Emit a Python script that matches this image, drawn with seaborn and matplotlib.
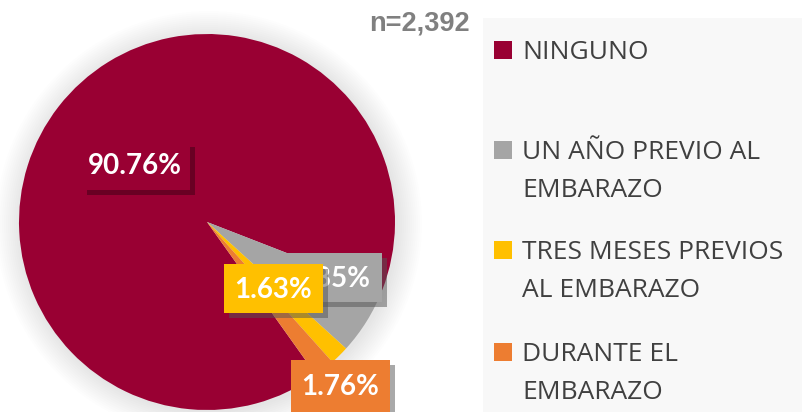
import matplotlib
matplotlib.use("Agg")
import matplotlib.pyplot as plt
from matplotlib.patches import Rectangle, Circle
import seaborn as sns

# ---- data ----
categories = ["NINGUNO", "UN AÑO PREVIO AL\nEMBARAZO", "TRES MESES PREVIOS\nAL EMBARAZO", "DURANTE EL\nEMBARAZO"]
values = [90.76, 5.85, 1.63, 1.76]
colors = ["#990033", "#A5A5A5", "#FFC000", "#ED7D31"]
n_label = "n=2,392"

sns.set_theme(style="white")
plt.rcParams["font.family"] = ["Lato", "DejaVu Sans"]

W, H = 802, 412
fig = plt.figure(figsize=(W / 100, H / 100), dpi=100)
ax = fig.add_axes([0, 0, 1, 1])

def Y(y):
    return H - y

# legend background
ax.add_patch(Rectangle((483, 0), W - 483, Y(18), facecolor="#F8F8F8", edgecolor="none", zorder=0))

cx, cy, R = 207, 222, 188
# soft halo around pie
for k in range(1, 26, 2):
    ax.add_patch(Circle((cx + 2, Y(cy) - 2), R + k, facecolor="black", alpha=0.007, edgecolor="none", zorder=1))

wedges, _ = ax.pie(values, colors=colors, startangle=-54.5, counterclock=False,
                   center=(cx, Y(cy)), radius=R, frame=True,
                   wedgeprops=dict(linewidth=0, zorder=2))
ax.set_xlim(0, W)
ax.set_ylim(0, H)
ax.set_aspect("equal")
ax.axis("off")

labels = [f"{v:.2f}%" for v in values]

def label_box(x0, y0, x1, y1, tx, ty, text, color, shadow, z):
    ax.add_patch(Rectangle((x0 + 5, Y(y1) - 5), x1 - x0, y1 - y0, facecolor=shadow[0], alpha=shadow[1],
                           edgecolor="none", zorder=z))
    ax.add_patch(Rectangle((x0, Y(y1)), x1 - x0, y1 - y0, facecolor=color, edgecolor="none", zorder=z + 0.1))
    ax.text(tx, Y(ty), text, color="white", fontsize=20, fontweight="bold",
            ha="center", va="center", zorder=z + 0.2)

label_box(82, 142, 190, 190, 135, 166, labels[0], colors[0], ("#5E001F", 0.8), 3)
label_box(282, 253, 382, 302, 332, 279, labels[1], colors[1], ("#555555", 0.5), 4)
label_box(224, 264, 323, 313, 273, 290, labels[2], colors[2], ("#555555", 0.5), 5)
label_box(291, 360, 390, 420, 340, 387, labels[3], colors[3], ("#555555", 0.5), 6)

# n label
ax.text(470, Y(23), n_label, color="#808080", fontsize=19.5, fontweight="bold",
        ha="right", va="center", family=["Liberation Sans", "DejaVu Sans"], zorder=7)

# legend
leg_y = [50, 150, 250, 352]
for cat, col, yy in zip(categories, colors, leg_y):
    ax.add_patch(Rectangle((494, Y(yy + 9)), 18, 18, facecolor=col, edgecolor="none", zorder=7))
    for i, line in enumerate(cat.split("\n")):
        ax.text(522, Y(yy + 9 + 38 * i), line, color="#404040", fontsize=19, ha="left",
                va="baseline", family=["Open Sans", "DejaVu Sans"], zorder=7)

fig.savefig("out.png", dpi=100, facecolor="white")
